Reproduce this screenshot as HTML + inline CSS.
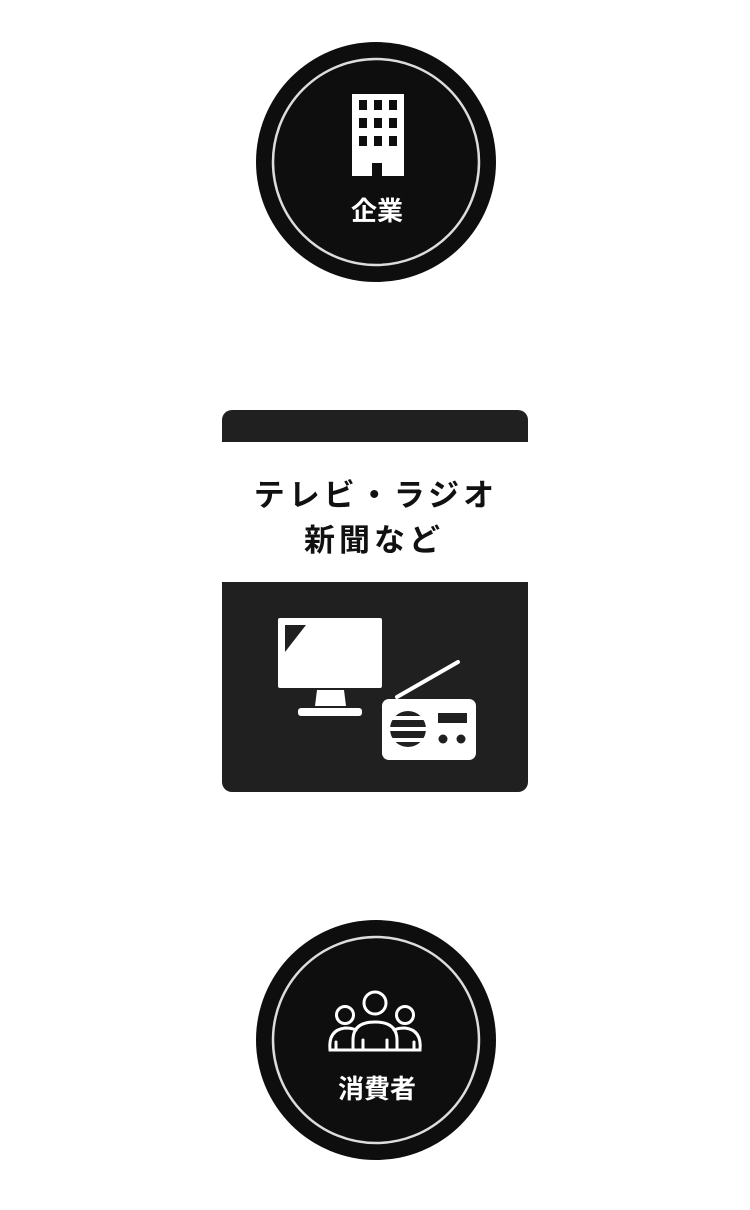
<!DOCTYPE html>
<html><head><meta charset="utf-8"><style>
html,body{margin:0;padding:0;background:#fff;width:750px;height:1210px;overflow:hidden}
.t{font-family:"Liberation Sans","Noto Sans CJK JP",sans-serif;font-weight:bold}
</style></head><body>
<svg width="750" height="1210" viewBox="0 0 750 1210" xmlns="http://www.w3.org/2000/svg">
<!-- circle 1 -->
<circle cx="376" cy="162" r="120" fill="#0e0e0e"/>
<circle cx="376" cy="162" r="103" fill="none" stroke="#ddd" stroke-width="2.5"/>
<rect x="352" y="94" width="52" height="82" fill="#fff"/>
<g fill="#0e0e0e">
<rect x="359" y="100" width="8" height="10"/><rect x="374" y="100" width="8" height="10"/><rect x="389" y="100" width="8" height="10"/>
<rect x="359" y="118" width="8" height="10"/><rect x="374" y="118" width="8" height="10"/><rect x="389" y="118" width="8" height="10"/>
<rect x="359" y="136" width="8" height="10"/><rect x="374" y="136" width="8" height="10"/><rect x="389" y="136" width="8" height="10"/>
<rect x="372" y="163" width="10" height="13"/>
</g>
<text x="377" y="220" class="t" font-size="26" fill="#fff" text-anchor="middle">企業</text>

<!-- card -->
<rect x="222" y="410" width="306" height="382" rx="10" fill="#202020"/>
<rect x="222" y="442" width="306" height="140" fill="#fff"/>
<text x="376" y="506" class="t" font-size="31" fill="#111" text-anchor="middle" letter-spacing="4">テレビ・ラジオ</text>
<text x="374" y="551" class="t" font-size="31" fill="#111" text-anchor="middle" letter-spacing="4">新聞など</text>
<rect x="278" y="618" width="104" height="70" rx="2" fill="#fff"/>
<polygon points="285,625 306,625 285,652" fill="#202020"/>
<polygon points="317,690 344,690 346,706 315,706" fill="#fff"/>
<rect x="298" y="708" width="64" height="8" rx="3" fill="#fff"/>
<line x1="397" y1="697" x2="458" y2="662" stroke="#fff" stroke-width="4" stroke-linecap="round"/>
<rect x="382" y="699" width="94" height="61" rx="7" fill="#fff"/>
<circle cx="408" cy="729" r="18" fill="#202020"/>
<g fill="#fff"><rect x="388" y="716" width="40" height="4"/><rect x="388" y="727" width="40" height="4"/><rect x="388" y="738" width="40" height="4"/></g>
<rect x="438" y="713" width="29" height="10" fill="#202020"/>
<circle cx="443" cy="739" r="4.5" fill="#202020"/><circle cx="461" cy="739" r="4.5" fill="#202020"/>

<!-- circle 3 -->
<circle cx="376" cy="1040" r="120" fill="#0e0e0e"/>
<circle cx="376" cy="1040" r="103" fill="none" stroke="#ddd" stroke-width="2.5"/>
<g fill="none" stroke="#fff" stroke-width="3" stroke-linecap="round">
<circle cx="375" cy="1003" r="11"/>
<circle cx="345" cy="1015" r="8.5"/>
<circle cx="405" cy="1015" r="8.5"/>
<path d="M353 1050 V1040 Q353 1022 375 1022 Q397 1022 397 1040 V1050 Z"/>
<path d="M353 1050 H330 Q328 1030 345 1028 Q352 1028 356 1030"/>
<path d="M397 1050 H420 Q422 1030 405 1028 Q398 1028 394 1030"/>
<line x1="363" y1="1040" x2="363" y2="1050"/><line x1="387" y1="1040" x2="387" y2="1050"/>
<line x1="336" y1="1042" x2="336" y2="1050"/><line x1="414" y1="1042" x2="414" y2="1050"/>
</g>
<text x="377" y="1098" class="t" font-size="26" fill="#fff" text-anchor="middle">消費者</text>
</svg>
</body></html>
